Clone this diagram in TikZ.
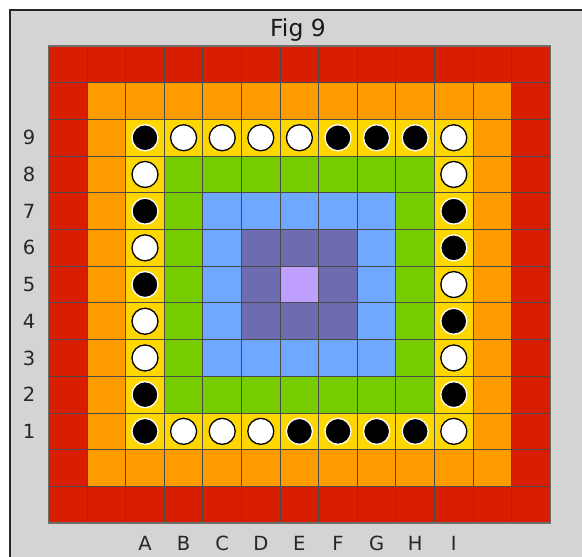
\documentclass[tikz,border=0pt]{standalone}
\usepackage{fontspec}
\setmainfont{DejaVu Sans}
\definecolor{ring0}{HTML}{BFA0FF}
\definecolor{ring1}{HTML}{6E6CB0}
\definecolor{ring2}{HTML}{70A8FF}
\definecolor{ring3}{HTML}{77CC00}
\definecolor{ring4}{HTML}{FFD700}
\definecolor{ring5}{HTML}{FF9C00}
\definecolor{ring6}{HTML}{D91E00}
\definecolor{bgray}{HTML}{D4D4D4}
\definecolor{gline}{HTML}{4A4A4A}
\tikzset{
  lbl/.style={font=\fontsize{19.5}{22}\selectfont, text=black!85, inner sep=0pt},
  ttl/.style={font=\fontsize{23.5}{26}\selectfont, text=black!90, inner sep=0pt, anchor=base},
  gridline/.style={draw=gline, line width=1pt},
  stoneb/.style={circle, fill=black, draw=white, line width=1.3pt, minimum size=26pt, inner sep=0pt},
  stonew/.style={circle, fill=white, draw=black, line width=1.3pt, minimum size=26pt, inner sep=0pt},
}
\begin{document}
\begin{tikzpicture}[x=1pt,y=-1pt]
\useasboundingbox (0,0) rectangle (582,557);
\fill[bgray] (10,10) rectangle (590,565);
\draw[black!85, line width=1.3pt] (10,565) -- (10,10) -- (590,10);
\node[ttl] (title) at (298,36.5) {Fig 9};
\foreach \i in {0,...,12}{
  \foreach \j in {0,...,12}{
    \pgfmathtruncatemacro\d{max(abs(\i-6),abs(\j-6))}
    \fill[ring\d] (48.5+38.6*\i, 46+36.7*\j) rectangle ++(38.6,36.7);
  }
}
\foreach \i in {1,...,12}{
  \draw[gridline] (48.5+38.6*\i,46) -- ++(0,477.1);
  \draw[gridline] (48.5,46+36.7*\i) -- ++(501.8,0);
}
\draw[draw=gline!80, line width=1.6pt] (48.5,46) rectangle (550.3,523.1);
% stones top row (row 9)
\foreach \c [count=\k from 0] in {b,w,w,w,w,b,b,b,w}
  \node[stone\c] (top\k) at (48.5+38.6*2.5+38.6*\k, 46+36.7*2.5) {};
% bottom row (row 1)
\foreach \c [count=\k from 0] in {b,w,w,w,b,b,b,b,w}
  \node[stone\c] (bot\k) at (48.5+38.6*2.5+38.6*\k, 46+36.7*10.5) {};
% left column rows 8..2
\foreach \c [count=\k from 0] in {w,b,w,b,w,w,b}
  \node[stone\c] (lef\k) at (48.5+38.6*2.5, 46+36.7*3.5+36.7*\k) {};
% right column rows 8..2
\foreach \c [count=\k from 0] in {w,b,b,w,b,w,b}
  \node[stone\c] (rig\k) at (48.5+38.6*10.5, 46+36.7*3.5+36.7*\k) {};
% row labels
\foreach \r [count=\k from 0] in {9,8,7,6,5,4,3,2,1}
  \node[lbl] (row\r) at (29, 46+36.7*2.5+36.7*\k) {\r};
% column labels
\foreach \l [count=\k from 0] in {A,B,C,D,E,F,G,H,I}
  \node[lbl] (col\l) at (48.5+38.6*2.5+38.6*\k, 543) {\l};
\end{tikzpicture}
\end{document}
